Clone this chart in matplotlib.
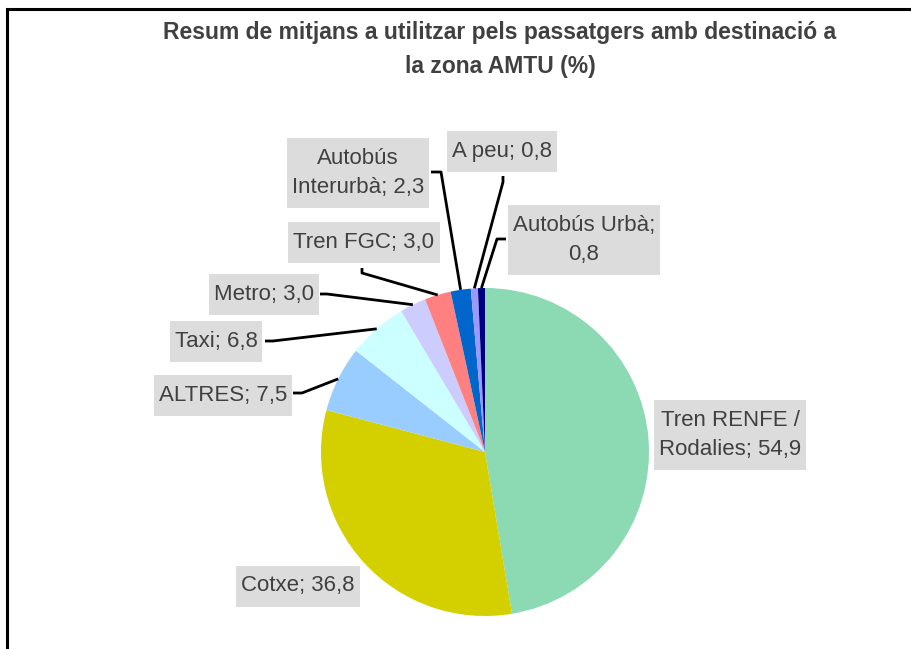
import numpy as np
import matplotlib.pyplot as plt
from matplotlib.patches import Rectangle

# dades del grafic
categories = ["Tren RENFE /\nRodalies; 54,9", "Cotxe; 36,8", "ALTRES; 7,5", "Taxi; 6,8",
              "Metro; 3,0", "Tren FGC; 3,0", "Autobús\nInterurbà; 2,3", "A peu; 0,8",
              "Autobús Urbà;\n0,8"]
valors = [54.9, 36.8, 7.5, 6.8, 3.0, 3.0, 2.3, 0.8, 0.8]
colors = ["#8BDAB3", "#D4D000", "#99CCFF", "#CCFFFF", "#CCCCFF", "#FF8080",
          "#0066CC", "#9999FF", "#000080"]

W, H = 912, 649
fig = plt.figure(figsize=(W / 100, H / 100), dpi=100)
ax = fig.add_axes([0, 0, 1, 1])

# marc exterior (retallat a dreta i a baix)
fig.patches.append(Rectangle((7.5 / W, -0.1), 1.2, (H - 9) / H + 0.1,
                             transform=fig.transFigure, fill=False,
                             edgecolor="black", linewidth=2.2))

cx, cy, R = 485, H - 452, 164
wedges, _ = ax.pie(valors, colors=colors, startangle=90, counterclock=False,
                   center=(cx, cy), radius=R, frame=True,
                   wedgeprops=dict(linewidth=0))
ax.set_xlim(0, W)
ax.set_ylim(0, H)
ax.set_aspect("equal")
ax.axis("off")

# posicions de les etiquetes (pixels de la imatge: centre x, centre y)
# i punts de la linia (caixa -> colze)
etiquetes = [
    (730, 435, None, None),
    (298, 586, None, None),
    (223, 395, (293, 393), (302, 393)),
    (216, 342, (265, 341), (273, 341)),
    (264, 295, (320, 294), (327, 294)),
    (364, 243, (362, 268), (362, 273)),
    (358, 173, (431, 172), (441, 172)),
    (502, 152, (503, 176), (503, 182)),
    (584, 240, (506, 239), (497, 239)),
]

textos = []
for w, lab, (tx, ty, p0, p1) in zip(wedges, categories, etiquetes):
    t = ax.text(tx, H - ty, lab, ha="center", va="center", fontsize=16,
                color="#404040", family="Liberation Sans", linespacing=1.45,
                zorder=3)
    textos.append(t)
    if p0 is not None:
        ang = np.deg2rad((w.theta1 + w.theta2) / 2)
        ex, ey = cx + R * np.cos(ang), cy + R * np.sin(ang)
        ax.plot([p0[0], p1[0], ex], [H - p0[1], H - p1[1], ey],
                color="black", linewidth=2, zorder=4, solid_capstyle="butt")

# caixes grises al voltant de les etiquetes
fig.canvas.draw()
rend = fig.canvas.get_renderer()
for t in textos:
    bb = t.get_window_extent(rend).transformed(ax.transData.inverted())
    ax.add_patch(Rectangle((bb.x0 - 5, bb.y0 - 10), bb.width + 10, bb.height + 20,
                           facecolor="#DCDCDC", edgecolor="none", zorder=2))

fig.text(500 / W, 1 - 33 / H, "Resum de mitjans a utilitzar pels passatgers amb destinació a",
         ha="center", va="center", fontsize=16.5, fontweight="bold",
         color="#404040", family="Liberation Sans")
fig.text(500 / W, 1 - 67 / H, "la zona AMTU (%)",
         ha="center", va="center", fontsize=16.5, fontweight="bold",
         color="#404040", family="Liberation Sans")

fig.savefig("out.png", dpi=100)
